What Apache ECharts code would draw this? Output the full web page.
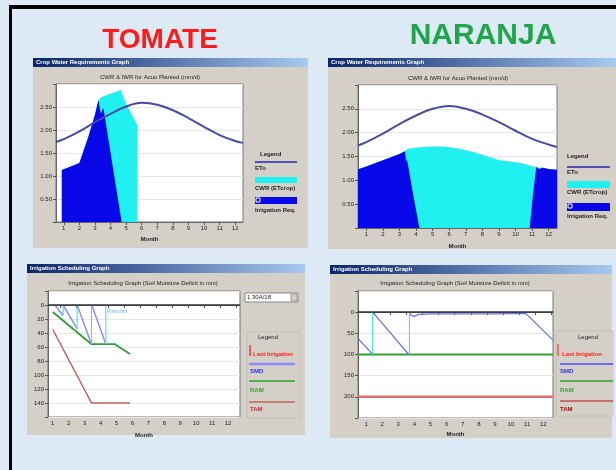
<!DOCTYPE html>
<html>
<head>
<meta charset="utf-8">
<script src="https://cdn.jsdelivr.net/npm/echarts@6/dist/echarts.min.js"></script>
<style>
html,body{margin:0;padding:0;background:#dde9f5}
#chart{width:616px;height:470px}
</style>
</head>
<body>
<div id="chart"></div>
<script>
// month labels and tick positions
var months = [1,2,3,4,5,6,7,8,9,10,11,12];
var midMonths = [1.5,2.5,3.5,4.5,5.5,6.5,7.5,8.5,9.5,10.5,11.5,12.5];

// TOMATE - crop water requirements (mm/d), [month, value]
var tomEto = [[0.5,1.74],[1,1.80],[2,1.97],[3,2.17],[4,2.35],[5,2.51],[6,2.59],[7,2.55],[8,2.43],[9,2.26],[10,2.07],[11,1.89],[12,1.76],[12.5,1.72]];
var tomCwr = [[0.87,1.13],[1.4,1.2],[2.0,1.28],[2.25,1.53],[2.57,1.85],[3.0,2.33],[3.22,2.65],[3.43,2.72],[4.65,2.87],[5.04,2.54],[5.72,2.11],[5.72,0]];
var tomIrr = [[0.87,0],[0.87,1.13],[1.4,1.2],[2.0,1.28],[2.25,1.53],[2.57,1.85],[3.0,2.33],[3.22,2.65],[3.37,2.36],[3.54,2.48],[4.71,0]];

// NARANJA - crop water requirements (mm/d)
var narEto = [[0.5,1.73],[1,1.80],[2,1.98],[3,2.18],[4,2.36],[5,2.50],[6,2.56],[7,2.50],[8,2.38],[9,2.22],[10,2.04],[11,1.87],[12,1.75],[12.5,1.70]];
var narCwr = [[0.5,1.23],[1,1.29],[2,1.42],[3,1.55],[3.33,1.61],[3.5,1.66],[4.5,1.70],[5.5,1.71],[6.5,1.67],[7.5,1.59],[8.5,1.48],[9.1,1.42],[10,1.38],[10.5,1.35],[11.2,1.28],[12,1.24],[12.5,1.22]];
var narIrrA = [[0.5,1.23],[1,1.29],[2,1.42],[3,1.55],[3.33,1.61],[3.4,1.38],[3.45,1.45],[3.51,1.42],[3.8,0.75],[4.2,0]];
var narIrrB = [[10.85,0],[11.05,0.7],[11.25,1.28],[11.45,1.23],[11.6,1.27],[12,1.24],[12.5,1.22]];

// TOMATE - irrigation scheduling (mm)
var tomTam = [[1.0,35],[3.43,140],[5.85,140]];
var tomRam = [[1.0,10],[3.43,56],[4.9,56],[5.85,70]];
var tomSmd = [[1.13,0],[1.65,15],[1.65,'-'],[1.65,0],[2.53,34],[2.53,'-'],[2.53,0],[3.43,56],[3.43,'-'],[3.45,0],[4.33,56]];
var tomIrrig = [[1.65,15],[1.65,0],[2.0,'-'],[2.53,34],[2.53,0],[3.0,'-'],[3.43,56],[3.43,0],[4.0,'-'],[4.33,56],[4.33,0]];

// NARANJA - irrigation scheduling (mm)
var narTam = [[0.5,200],[12.6,200]];
var narRam = [[0.5,100],[12.6,100]];
var narSmd = [[0.54,64],[1.37,98],[1.41,'-'],[1.41,0],[3.65,100],[3.69,'-'],[3.69,0],[3.8,8],[4.0,10],[4.25,5],[5,4],[7,4],[9,4],[10.9,3],[12.6,66]];
var narIrrig = [[1.41,100],[1.41,0],[2.5,'-'],[3.69,100],[3.69,0]];

var FONT = 'Liberation Sans';
var tiny = {fontSize:6, color:'#222', fontFamily:FONT};

function xAxis(gi, min, max, ticks, gap) {
    return {
        type:'value', gridIndex:gi, min:min, max:max,
        name:'Month', nameLocation:'middle', nameGap:gap,
        nameTextStyle:{fontSize:6, fontWeight:'bold', color:'#222', fontFamily:FONT},
        axisLine:{lineStyle:{color:'#666'}},
        axisTick:{customValues:ticks, length:3, lineStyle:{color:'#555'}},
        axisLabel:Object.assign({customValues:months, margin:3}, tiny),
        splitLine:{show:false}
    };
}

function yAxis(gi, min, max, step, inv, fmt) {
    return {
        type:'value', gridIndex:gi, min:min, max:max, interval:step, inverse:inv,
        axisLine:{show:true, lineStyle:{color:'#666'}},
        axisTick:{show:true, length:3, lineStyle:{color:'#555'}},
        axisLabel:Object.assign({formatter:fmt, margin:4}, tiny),
        splitLine:{lineStyle:{color:'#e6e6e6'}}
    };
}

function area(gi, data, color, z, smooth) {
    return {type:'line', xAxisIndex:gi, yAxisIndex:gi, data:data, symbol:'none', smooth:smooth||false,
        lineStyle:{width:0}, areaStyle:{color:color, opacity:1}, z:z};
}
function line(gi, data, color, w, z, extra) {
    return Object.assign({type:'line', xAxisIndex:gi, yAxisIndex:gi, data:data, symbol:'none',
        lineStyle:{color:color, width:w}, z:z}, extra||{});
}

var zeroLine = {silent:true, symbol:'none', label:{show:false},
    lineStyle:{color:'#333', type:'solid', width:1.5}, data:[{yAxis:0}]};

var barGrad = {type:'linear', x:0, y:0, x2:1, y2:0,
    colorStops:[{offset:0, color:'#0a246a'}, {offset:1, color:'#a6caf0'}]};

function win(x, y, w, h, title) {
    return [
        {type:'rect', shape:{x:x, y:y+9, width:w, height:h-9}, style:{fill:'#d4d0c8'}, z:-10},
        {type:'rect', shape:{x:x, y:y, width:w, height:9}, style:{fill:barGrad}, z:-10},
        {type:'text', x:x+3, y:y+4.5, style:{text:title, fill:'#fff', font:'bold 6px ' + FONT, textVerticalAlign:'middle', verticalAlign:'middle'}, z:-9}
    ];
}
function txt(x, y, s, color, font, align) {
    return {type:'text', x:x, y:y, z:20, style:{text:s, fill:color, font:font,
        textAlign:align||'left', align:align||'left', textVerticalAlign:'middle', verticalAlign:'middle'}};
}
function seg(x1, y1, x2, y2, color, w) {
    return {type:'line', z:20, shape:{x1:x1, y1:y1, x2:x2, y2:y2}, style:{stroke:color, lineWidth:w}};
}
function box(x, y, w, h, fill, stroke) {
    return {type:'rect', z:20, shape:{x:x, y:y, width:w, height:h}, style:{fill:fill, stroke:stroke||null, lineWidth:1}};
}

var small = '6px ' + FONT;
var smallB = 'bold 6px ' + FONT;

var elements = [].concat(
    // slide frame
    [box(9, 5, 607, 4, '#000'), box(9, 5, 3, 465, '#000')],
    win(33, 58, 275, 190, 'Crop Water Requirements Graph'),
    win(328, 58, 288, 191, 'Crop Water Requirements Graph'),
    win(27, 264, 278, 171, 'Irrigation Scheduling Graph'),
    win(330, 265, 282, 173, 'Irrigation Scheduling Graph'),
    [
        txt(160, 40, 'TOMATE', '#ff1a1a', 'bold 28px ' + FONT, 'center'),
        txt(483, 36, 'NARANJA', '#1fa64a', 'bold 30px ' + FONT, 'center'),
        txt(150, 77, 'CWR & IWR for Acuo Planted (mm/d)', '#222', small, 'center'),
        txt(458, 78, 'CWR & IWR for Acuo Planted (mm/d)', '#222', small, 'center'),
        txt(143, 283, 'Irrigation Scheduling Graph (Soil Moisture Deficit in mm)', '#222', small, 'center'),
        txt(455, 283, 'Irrigation Scheduling Graph (Soil Moisture Deficit in mm)', '#222', small, 'center'),

        // legend, top left
        txt(260, 154, 'Legend', '#222', smallB),
        seg(255, 162, 297, 162, '#5050b0', 2),
        txt(255, 168, 'ETo', '#222', smallB),
        box(255, 177, 42, 6, '#20f0f0'),
        txt(255, 188, 'CWR (ETcrop)', '#222', smallB),
        box(255, 197, 42, 7, '#0808e8'),
        box(256, 198, 4, 4, 'none', '#fff'),
        txt(255, 210, 'Irrigation Req.', '#222', smallB),

        // legend, top right
        txt(567, 156, 'Legend', '#222', smallB),
        seg(567, 167, 610, 167, '#5050b0', 2),
        txt(567, 172, 'ETo', '#222', smallB),
        box(567, 181, 43, 7, '#20f0f0'),
        txt(567, 192, 'CWR (ETcrop)', '#222', smallB),
        box(567, 203, 43, 8, '#0808e8'),
        box(568, 204, 4, 4, 'none', '#fff'),
        txt(567, 216, 'Irrigation Req.', '#222', smallB),

        // date box, bottom left
        box(245, 293, 53, 9, '#fff', '#888'),
        box(291, 294, 6, 7, '#d4d0c8', '#999'),
        txt(247, 297.5, '1 30A/18', '#222', small),
        txt(107, 311, 'Rainfall', '#7fb8ff', small),

        // legend, bottom left
        box(247, 332, 53, 86, 'none', '#c4c0b8'),
        txt(258, 337, 'Legend', '#222', small),
        seg(250, 345, 250, 356, '#ff3030', 1.5),
        txt(253, 354, 'Last Irrigation', '#ff2020', smallB),
        seg(249, 364, 295, 364, '#8c8cff', 2.5),
        txt(250, 371, 'SMD', '#3030e0', smallB),
        seg(249, 381, 295, 381, '#30a030', 1.5),
        txt(250, 390, 'RAM', '#30a030', smallB),
        seg(249, 402, 295, 402, '#c06060', 1.5),
        txt(250, 409, 'TAM', '#c03030', smallB),

        // legend, bottom right
        box(556, 331, 57, 85, 'none', '#c4c0b8'),
        txt(578, 337, 'Legend', '#222', small),
        seg(558, 344, 558, 356, '#ff5050', 1.5),
        txt(562, 354, 'Last Irrigation', '#ff2020', smallB),
        seg(560, 364, 613, 364, '#6c6cf0', 2),
        txt(560, 371, 'SMD', '#3030e0', smallB),
        seg(560, 381, 613, 381, '#30a030', 1.5),
        txt(560, 390, 'RAM', '#30a030', smallB),
        seg(560, 401, 613, 401, '#c05050', 1.5),
        txt(560, 409, 'TAM', '#a01010', smallB)
    ]
);

var chart = echarts.init(document.getElementById('chart'));
chart.setOption({
    animation:false,
    backgroundColor:'#dde9f5',
    grid:[
        {left:56, top:84, width:187, height:138, show:true, backgroundColor:'#fff', borderColor:'#777'},
        {left:358, top:85, width:199, height:143, show:true, backgroundColor:'#fff', borderColor:'#777'},
        {left:48, top:291, width:192, height:126, show:true, backgroundColor:'#fff', borderColor:'#777'},
        {left:358, top:291, width:195, height:127, show:true, backgroundColor:'#fff', borderColor:'#777'}
    ],
    xAxis:[
        xAxis(0, 0.5, 12.5, months, 14),
        xAxis(1, 0.5, 12.5, months, 15),
        xAxis(2, 0.7, 12.75, midMonths, 15),
        xAxis(3, 0.5, 12.6, midMonths, 13)
    ],
    yAxis:[
        yAxis(0, 0, 3, 0.5, false, function(v){ return v > 0 && v < 3 ? v.toFixed(2) : ''; }),
        yAxis(1, 0, 3, 0.5, false, function(v){ return v > 0 && v < 3 ? v.toFixed(2) : ''; }),
        yAxis(2, -20, 160, 20, true, function(v){ return v >= 0 && v <= 140 ? v : ''; }),
        yAxis(3, -50, 250, 50, true, function(v){ return v >= 0 && v <= 200 ? v : ''; })
    ],
    series:[
        area(0, tomCwr, '#20f0f0', 2),
        area(0, tomIrr, '#0808e8', 3),
        line(0, tomEto, '#4a4aa8', 2, 4, {smooth:0.4}),

        area(1, narCwr, '#20f0f0', 2, 0.3),
        area(1, narIrrA, '#0808e8', 3),
        area(1, narIrrB, '#0808e8', 3),
        line(1, narEto, '#4a4aa8', 2, 4, {smooth:0.4}),

        line(2, tomTam, '#c06060', 1.5, 3, {markLine:zeroLine}),
        line(2, tomRam, '#30a030', 1.8, 3),
        line(2, tomSmd, '#8c8cff', 1.5, 4),
        line(2, tomIrrig, '#30e0f0', 1, 4),

        line(3, narTam, '#e07070', 2.5, 3, {markLine:zeroLine}),
        line(3, narRam, '#30a030', 1.8, 3),
        line(3, narSmd, '#6c6cf0', 1.2, 4),
        line(3, narIrrig, '#30e0f0', 1, 4)
    ],
    graphic:{elements:elements}
});
</script>
</body>
</html>
